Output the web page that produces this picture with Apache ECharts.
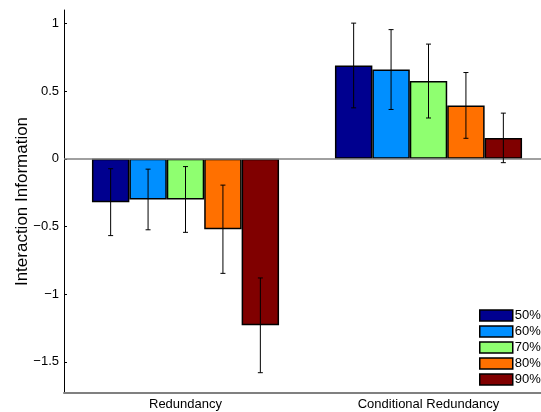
<!DOCTYPE html>
<html>
<head>
<meta charset="utf-8">
<script src="https://cdn.jsdelivr.net/npm/echarts@6/dist/echarts.min.js"></script>
<style>
  html, body { margin: 0; padding: 0; background: #fff; }
  #chart { width: 541px; height: 412px; }
</style>
</head>
<body>
<div id="chart"></div>
<script>
// data
const categories = ['Redundancy', 'Conditional Redundancy'];
const levels = ['50%', '60%', '70%', '80%', '90%'];
const colors = ['#00008f', '#008fff', '#8fff70', '#ff7000', '#800000'];
// mean per level: [Redundancy, Conditional Redundancy]
const means = [
  [-0.32, 0.69],
  [-0.30, 0.66],
  [-0.30, 0.575],
  [-0.52, 0.395],
  [-1.23, 0.155]
];
// error bar half lengths
const errors = [
  [0.247, 0.313],
  [0.224, 0.295],
  [0.243, 0.273],
  [0.326, 0.243],
  [0.350, 0.183]
];
const yTicks = [-1.5, -1, -0.5, 0, 0.5, 1];

const font = "'Liberation Sans', Arial, sans-serif";
const catGap = 0.23;

let chart = echarts.init(document.getElementById('chart'));

let barSeries = levels.map(function (name, i) {
  let s = {
    name: name,
    type: 'bar',
    barGap: '0%',
    barCategoryGap: (catGap * 100) + '%',
    itemStyle: {
      color: colors[i],
      borderColor: '#000',
      borderWidth: 1.5
    },
    emphasis: { disabled: true },
    data: means[i]
  };
  if (i === 0) {
    // grey zero line across the plot
    s.markLine = {
      silent: true,
      symbol: 'none',
      label: { show: false },
      lineStyle: { color: '#808080', width: 1.5, type: 'solid' },
      data: [{ yAxis: 0 }]
    };
  }
  return s;
});

let errData = [];
levels.forEach(function (name, i) {
  categories.forEach(function (c, j) {
    errData.push([j, i, means[i][j], errors[i][j]]);
  });
});

let errSeries = {
  type: 'custom',
  name: 'err',
  silent: true,
  z: 10,
  encode: { x: 0, y: 2 },
  renderItem: function (params, api) {
    let cat = api.value(0), si = api.value(1), m = api.value(2), e = api.value(3);
    let c = api.coord([cat, m]);
    let band = api.size([1, 0])[0];
    let groupW = band * (1 - catGap);
    let bw = groupW / levels.length;
    let x = c[0] - groupW / 2 + bw * (si + 0.5);
    let y1 = api.coord([cat, m + e])[1];
    let y2 = api.coord([cat, m - e])[1];
    let cap = 2.5;
    let st = { stroke: '#000', lineWidth: 1 };
    return {
      type: 'group',
      children: [
        { type: 'line', shape: { x1: x, y1: y1, x2: x, y2: y2 }, style: st },
        { type: 'line', shape: { x1: x - cap, y1: y1, x2: x + cap, y2: y1 }, style: st },
        { type: 'line', shape: { x1: x - cap, y1: y2, x2: x + cap, y2: y2 }, style: st }
      ]
    };
  },
  data: errData
};

let option = {
  backgroundColor: '#fff',
  animation: false,
  textStyle: { fontFamily: font },
  // plot runs past the right edge of the picture, like the original
  grid: { left: 64, width: 486, top: 10, bottom: 19, outerBoundsMode: 'none', containLabel: false },
  legend: {
    data: levels,
    orient: 'vertical',
    left: 479,
    top: 309,
    itemWidth: 33,
    itemHeight: 11,
    itemGap: 3,
    icon: 'rect',
    itemStyle: { borderColor: '#000', borderWidth: 1.5 },
    textStyle: { fontFamily: font, fontSize: 13, color: '#000', padding: [0, 0, 0, -3] },
    padding: 0,
    selectedMode: false
  },
  xAxis: {
    type: 'category',
    data: categories,
    axisLine: { onZero: false, lineStyle: { color: '#808080', width: 2 } },
    axisTick: { inside: true, length: 3, alignWithLabel: true, lineStyle: { color: '#808080' } },
    axisLabel: { color: '#000', fontSize: 13, margin: 5, fontFamily: font },
    splitLine: { show: false }
  },
  yAxis: {
    type: 'value',
    min: -1.73,
    max: 1.1,
    name: 'Interaction Information',
    nameLocation: 'middle',
    nameGap: 33,
    nameMoveOverlap: false,
    nameTextStyle: { color: '#000', fontSize: 17, fontFamily: font },
    axisLine: { show: true, lineStyle: { color: '#000', width: 1 } },
    axisTick: { show: true, inside: true, length: 3, customValues: yTicks, lineStyle: { color: '#000' } },
    axisLabel: {
      customValues: yTicks,
      color: '#000',
      fontSize: 13,
      margin: 5,
      fontFamily: font,
      formatter: function (v) { return String(v).replace('-', '\u2212'); }
    },
    splitLine: { show: false }
  },
  series: barSeries.concat([errSeries])
};

chart.setOption(option);
</script>
</body>
</html>
